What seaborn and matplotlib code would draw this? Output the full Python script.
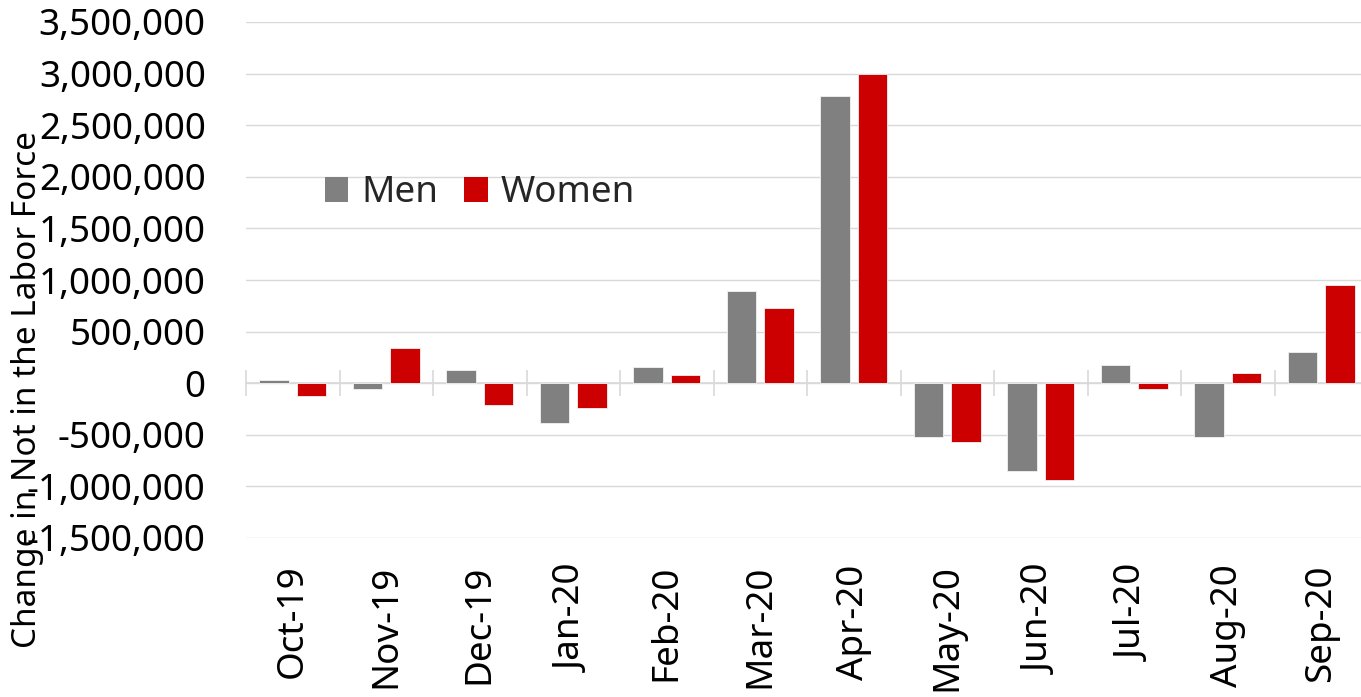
import numpy as np
import pandas as pd
import matplotlib
matplotlib.use("Agg")
import matplotlib.pyplot as plt
from matplotlib.ticker import FuncFormatter
import seaborn as sns

months = ["Oct-19", "Nov-19", "Dec-19", "Jan-20", "Feb-20", "Mar-20",
          "Apr-20", "May-20", "Jun-20", "Jul-20", "Aug-20", "Sep-20"]
men = [31000, -56000, 131000, -382000, 157000, 898000,
       2783000, -517000, -853000, 179000, -517000, 305000]
women = [-128000, 340000, -208000, -240000, 82000, 733000,
         3000000, -566000, -937000, -53000, 99000, 955000]
series = ["Men", "Women"]
colors = ["#808080", "#CC0000"]
yticks = list(range(-1500000, 3500001, 500000))
ylabel = "Change in Not in the Labor Force"

df = pd.DataFrame({
    "month": months * 2,
    "value": men + women,
    "sex": [series[0]] * len(months) + [series[1]] * len(months),
})

sns.set_theme(style="white")
plt.rcParams["font.family"] = ["Noto Sans", "DejaVu Sans"]

fig = plt.figure(figsize=(13.61, 6.97), dpi=100)
ax = fig.add_axes([246 / 1361, 159 / 697, 1122 / 1361, 516 / 697])

sns.barplot(data=df, x="month", y="value", hue="sex", order=months,
            hue_order=series, palette=colors, saturation=1, width=0.8,
            gap=0.22, edgecolor="#f2f2f2", linewidth=0.6, ax=ax, zorder=3)

ymin, ymax = yticks[0], yticks[-1]
ax.set_ylim(ymin, ymax)
ax.set_xlim(-0.5, len(months) - 0.5)
ax.set_yticks(yticks)
ax.yaxis.set_major_formatter(FuncFormatter(lambda v, p: f"{int(v):,}"))
ax.grid(axis="y", color="#d9d9d9", linewidth=1.0, zorder=0)
ax.grid(axis="x", visible=False)
for s in ax.spines.values():
    s.set_visible(False)

ax.tick_params(axis="y", length=0, pad=29, labelsize=26.5, labelcolor="black")
ax.tick_params(axis="x", length=0, pad=19, labelsize=26.5, labelcolor="black",
               labelrotation=90)
ax.set_xlabel("")
ax.set_ylabel(ylabel, fontsize=24, color="black")
ax.yaxis.set_label_coords(-0.180, 0.287)

# zero axis line with category boundary ticks
zero_pos = (0 - ymin) / (ymax - ymin)
sec = ax.secondary_xaxis(zero_pos)
sec.set_xticks(np.arange(-0.5, len(months), 1.0))
sec.set_xticklabels([])
sec.tick_params(axis="x", direction="inout", length=19, width=1.2,
                color="#d9d9d9")
for s in sec.spines.values():
    s.set_color("#d9d9d9")
    s.set_linewidth(1.2)

leg = ax.legend(loc="center left", bbox_to_anchor=(0.07, 0.668), ncol=2,
                frameon=False, fontsize=26.5, handlelength=0.65,
                handleheight=0.65, handletextpad=0.35, columnspacing=0.7,
                borderpad=0, borderaxespad=0)
for h in leg.legend_handles:
    h.set_edgecolor("none")

fig.savefig("out.png", dpi=100)
